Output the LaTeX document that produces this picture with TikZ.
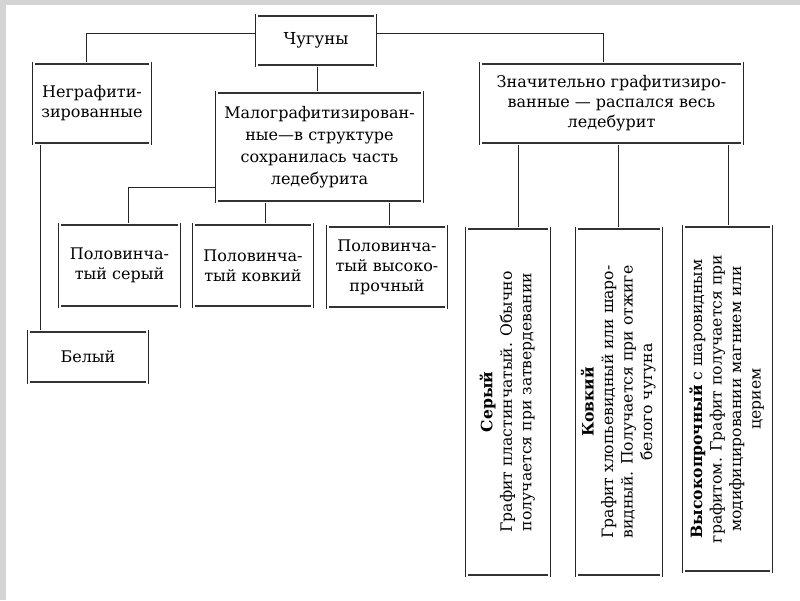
\documentclass[tikz,border=0pt]{standalone}
\usepackage{fontspec}
\setmainfont{DejaVu Serif}
\usepackage{graphicx}
\begin{document}
\begin{tikzpicture}[x=1pt,y=-1pt,
  cbox/.style={inner sep=0pt, align=center, font=\fontsize{16}{20}\selectfont},
  vtext/.style={font=\fontsize{15.6}{19.5}\selectfont},
  vedge/.style={line width=1pt, black!85},
  hedge/.style={line width=1.8pt, black!80},
  conn/.style={line width=1pt, black!85},
]
\fill[black!17] (0,0) rectangle (800,5);
\fill[black!17] (0,0) rectangle (6,600);
\useasboundingbox (0,0) rectangle (800,600);

\node[cbox, minimum width=120pt, minimum height=53pt, font=\fontsize{16.5}{20}\selectfont] (chug) at (316,40.5) {Чугуны};
\node[cbox, minimum width=118pt, minimum height=83pt] (negr) at (92,103.5) {Неграфити-\\зированные};
\node[cbox, minimum width=207pt, minimum height=112pt, font=\fontsize{16}{22}\selectfont] (malo) at (319.5,147) {Малографитизирован-\\ные—в структуре\\сохранилась часть\\ледебурита};
\node[cbox, minimum width=263pt, minimum height=83pt] (znach) at (611.5,103.5) {Значительно графитизиро-\\ванные — распался весь\\ледебурит};
\node[cbox, minimum width=120pt, minimum height=54pt] (bel) at (88,357) {Белый};
\node[cbox, minimum width=121pt, minimum height=85pt] (p1) at (119.5,265.5) {Половинча-\\тый серый};
\node[cbox, minimum width=120pt, minimum height=85pt] (p2) at (253,265.5) {Половинча-\\тый ковкий};
\node[cbox, minimum width=120pt, minimum height=84pt] (p3) at (387,267) {Половинча-\\тый высоко-\\прочный};
\node[cbox, vtext, minimum width=84pt, minimum height=350pt] (v1) at (508,402)
  {\rotatebox{90}{\begin{tabular}{@{}c@{}}\textbf{Серый}\\Графит пластинчатый. Обычно\\получается при затвердевании\end{tabular}}};
\node[cbox, vtext, minimum width=86pt, minimum height=350pt] (v2) at (619,402)
  {\rotatebox{90}{\begin{tabular}{@{}c@{}}\textbf{Ковкий}\\Графит хлопьевидный или шаро-\\видный. Получается при отжиге\\белого чугуна\end{tabular}}};
\node[cbox, vtext, minimum width=89pt, minimum height=348pt] (v3) at (727.5,399)
  {\rotatebox{90}{\begin{tabular}{@{}c@{}}\textbf{Высокопрочный} с шаровидным\\графитом. Графит получается при\\модифицировании магнием или\\церием\end{tabular}}};

\foreach \n in {chug,negr,malo,znach,bel,p1,p2,p3,v1,v2,v3}{
  \draw[vedge] (\n.north west) -- (\n.south west);
  \draw[vedge] (\n.north east) -- (\n.south east);
  \draw[hedge] ([xshift=2pt,yshift=-2pt]\n.north west) -- ([xshift=-2pt,yshift=-2pt]\n.north east);
  \draw[hedge] ([xshift=2pt,yshift=2pt]\n.south west) -- ([xshift=-2pt,yshift=2pt]\n.south east);
}

\draw[conn] ([yshift=7.5pt]chug.west) -| ([xshift=-6pt]negr.north);
\draw[conn] ([yshift=7.5pt]chug.east) -| ([xshift=-8.5pt]znach.north);
\draw[conn] ([xshift=1pt]chug.south) -- ([xshift=1pt]chug.south |- malo.north);
\draw[conn] ([xshift=-52pt]negr.south) -- ([xshift=-52pt]negr.south |- bel.north);
\draw[conn] ([yshift=-40pt]malo.west) -| ([xshift=8.5pt]p1.north);
\draw[conn] ([xshift=-54.5pt]malo.south) -- ([xshift=-54.5pt]malo.south |- p2.north);
\draw[conn] ([xshift=69.5pt]malo.south) -- ([xshift=69.5pt]malo.south |- p3.north);
\draw[conn] ([xshift=-93.5pt]znach.south) -- ([xshift=-93.5pt]znach.south |- v1.north);
\draw[conn] ([xshift=6.5pt]znach.south) -- ([xshift=6.5pt]znach.south |- v2.north);
\draw[conn] ([xshift=116.5pt]znach.south) -- ([xshift=116.5pt]znach.south |- v3.north);
\end{tikzpicture}
\end{document}
